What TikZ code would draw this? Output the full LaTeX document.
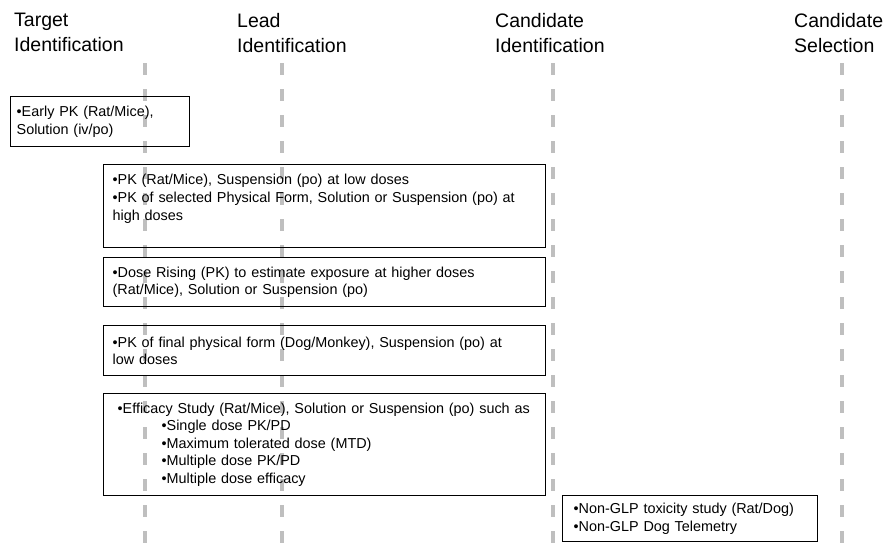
\documentclass[tikz,border=0pt]{standalone}
\usepackage{fontspec}
\setmainfont{Liberation Sans}
\begin{document}
\begin{tikzpicture}[x=1pt, y=-1pt,
  stage/.style={anchor=north west, inner sep=0pt, align=left, font=\fontsize{19.5}{25}\selectfont},
  study/.style={draw, line width=1.3pt, anchor=north west, inner xsep=9pt, inner ysep=0pt, align=left, font=\fontsize{14.4}{17.6}\selectfont},
  phase/.style={draw=black!25, line width=4.5pt, dash pattern=on 12pt off 14pt}]

\useasboundingbox (0,0) rectangle (885,546);

% milestones
\node[stage] (target) at (14,13) {Target\\Identification};
\node[stage] (lead) at (237,13) {Lead\\Identification};
\node[stage] (candid) at (495,13) {Candidate\\Identification};
\node[stage] (candsel) at (794,13) {Candidate\\Selection};

\foreach \x in {145,282,553,842}
  \draw[phase] (\x,63) -- (\x,546);

% studies
\node[study, inner xsep=6pt, text width=167pt, minimum height=50pt] (early) at (10,96) {•Early PK (Rat/Mice),\\Solution (iv/po)};
\node[study, text width=424pt, minimum height=83pt] (pklow) at (103,164) {•PK (Rat/Mice), Suspension (po) at low doses\\•PK of selected Physical Form, Solution or Suspension (po) at\\high doses\\\mbox{}};
\node[study, text width=424pt, minimum height=49pt] (rising) at (103,257) {•Dose Rising (PK) to estimate exposure at higher doses\\(Rat/Mice), Solution or Suspension (po)};
\node[study, text width=424pt, minimum height=50pt] (final) at (103,325) {•PK of final physical form (Dog/Monkey), Suspension (po) at\\low doses};
\node[study, inner xsep=14pt, text width=414pt, minimum height=102pt] (efficacy) at (103,393) {•Efficacy Study (Rat/Mice), Solution or Suspension (po) such as\\
  \hspace*{44pt}•Single dose PK/PD\\
  \hspace*{44pt}•Maximum tolerated dose (MTD)\\
  \hspace*{44pt}•Multiple dose PK/PD\\
  \hspace*{44pt}•Multiple dose efficacy};
\node[study, inner xsep=11pt, text width=233pt, minimum height=46pt] (tox) at (562,495) {•Non-GLP toxicity study (Rat/Dog)\\•Non-GLP Dog Telemetry};

\end{tikzpicture}
\end{document}
